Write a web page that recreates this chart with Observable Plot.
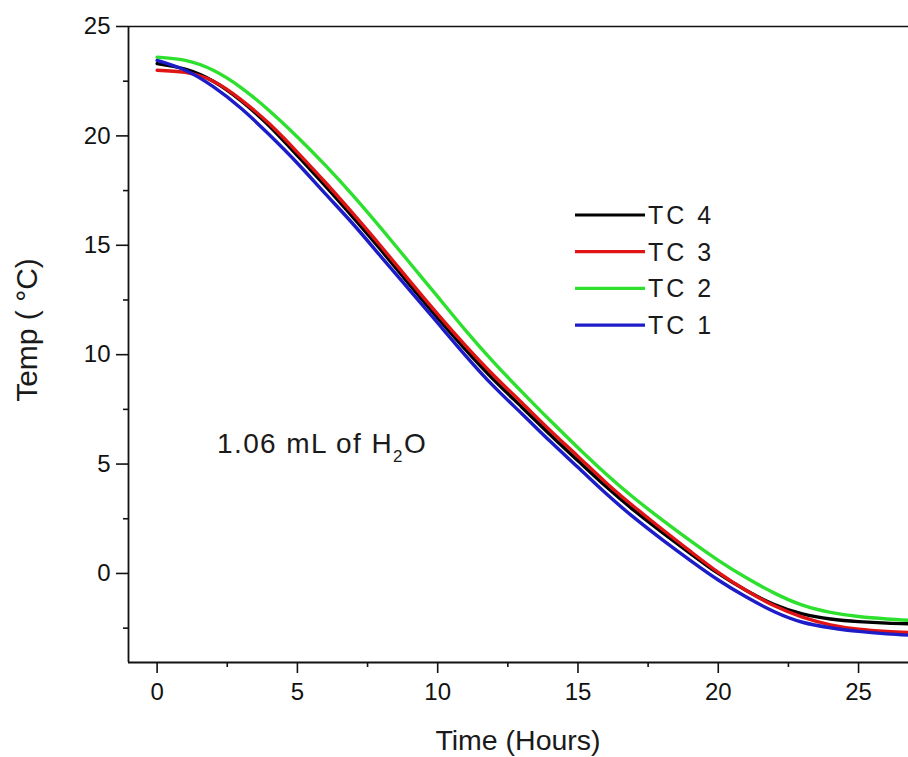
<!DOCTYPE html>
<html>
<head>
<meta charset="utf-8">
<script src="https://cdn.jsdelivr.net/npm/d3@7"></script>
<script src="https://cdn.jsdelivr.net/npm/@observablehq/plot@0.6"></script>
<style>
  html, body { margin: 0; padding: 0; background: #fff; }
  svg { display: block; }
</style>
</head>
<body>
<div id="chart"></div>
<script>
// ---- Data ----
const hours = [0, 1, 2, 3, 4, 5, 6, 7, 8, 9, 10, 11, 12, 13, 14, 15, 16, 17, 18, 19, 20, 21, 22, 23, 24, 25, 26, 26.8];

const tc4 = [23.3, 23.05, 22.5, 21.6, 20.45, 19.1, 17.7, 16.25, 14.75, 13.2, 11.68, 10.22, 8.85, 7.6, 6.35, 5.15, 3.97, 2.88, 1.88, 0.92, 0.0, -0.78, -1.42, -1.85, -2.08, -2.2, -2.27, -2.3];
const tc3 = [23.0, 22.9, 22.5, 21.65, 20.55, 19.25, 17.87, 16.42, 14.92, 13.37, 11.85, 10.4, 9.05, 7.8, 6.55, 5.35, 4.15, 3.05, 2.02, 1.02, 0.05, -0.78, -1.48, -2.0, -2.35, -2.55, -2.65, -2.7];
const tc2 = [23.6, 23.45, 23.0, 22.2, 21.15, 19.95, 18.65, 17.25, 15.75, 14.2, 12.65, 11.1, 9.65, 8.3, 7.0, 5.75, 4.55, 3.45, 2.45, 1.5, 0.6, -0.2, -0.9, -1.45, -1.78, -1.97, -2.08, -2.14];
const tc1 = [23.45, 23.0, 22.25, 21.25, 20.05, 18.75, 17.35, 15.95, 14.45, 12.95, 11.45, 9.95, 8.55, 7.3, 6.05, 4.85, 3.65, 2.55, 1.55, 0.6, -0.3, -1.08, -1.75, -2.23, -2.48, -2.65, -2.76, -2.82];

const seriesNames = ["TC 4", "TC 3", "TC 2", "TC 1"];
const seriesValues = [tc4, tc3, tc2, tc1];
const seriesColors = ["#000000", "#e01414", "#2ee02e", "#1c1cc8"];

const xMajorTicks = [0, 5, 10, 15, 20, 25];
const xMinorTicks = [2.5, 7.5, 12.5, 17.5, 22.5];
const yMajorTicks = [0, 5, 10, 15, 20, 25];
const yMinorTicks = [-2.5, 2.5, 7.5, 12.5, 17.5, 22.5];

const xDomain = [-1.02, 26.78];
const yDomain = [-4.07, 25];

const xTitle = "Time (Hours)";
const yTitle = "Temp ( °C)";
const noteMain = "1.06 mL of H";
const noteSub = "2";
const noteEnd = "O";

// ---- Build long table ----
const rows = [];
seriesNames.forEach((name, i) => {
  hours.forEach((t, j) => rows.push({series: name, t, T: seriesValues[i][j]}));
});

const font = "'Liberation Sans', Arial, sans-serif";

const chart = Plot.plot({
  width: 908,
  height: 757,
  marginLeft: 128,
  marginRight: 0,
  marginTop: 26,
  marginBottom: 95,
  style: {fontFamily: font, fontSize: "24px", color: "#000", background: "#fff", overflow: "visible"},
  x: {domain: xDomain},
  y: {domain: yDomain},
  color: {domain: seriesNames, range: seriesColors},
  marks: [
    Plot.ruleX([xDomain[0]], {stroke: "#111", strokeWidth: 1.8}),
    Plot.ruleY([yDomain[1]], {stroke: "#111", strokeWidth: 1.6}),
    Plot.ruleY([yDomain[0]], {stroke: "#111", strokeWidth: 1.8}),
    Plot.axisX({ticks: xMajorTicks, tickSize: 11, tickPadding: 9, fontSize: 23, label: null, stroke: "#111", strokeWidth: 1.6, fill: "#111"}),
    Plot.axisX({ticks: xMinorTicks, tickSize: 5, tickFormat: () => "", label: null, stroke: "#111", strokeWidth: 1.6}),
    Plot.axisY({ticks: yMajorTicks, tickSize: 12, tickPadding: 6, fontSize: 24, label: null, stroke: "#111", strokeWidth: 1.6, fill: "#111"}),
    Plot.axisY({ticks: yMinorTicks, tickSize: 5, tickFormat: () => "", label: null, stroke: "#111", strokeWidth: 1.6}),
    Plot.line(rows, {x: "t", y: "T", z: "series", stroke: "series", strokeWidth: 3.4, curve: "natural", clip: true})
  ]
});

const svg = d3.select(chart);

// Force tick label size (only Plot's tick labels exist as text at this point)
svg.selectAll("text").style("font-size", "24px").style("font-family", font);

// Axis titles
svg.append("text")
  .attr("x", 518).attr("y", 750)
  .attr("text-anchor", "middle")
  .attr("font-family", font).attr("font-size", 28.5)
  .attr("fill", "#1a1a1a")
  .text(xTitle);

svg.append("text")
  .attr("transform", "translate(37,330) rotate(-90)")
  .attr("text-anchor", "middle")
  .attr("font-family", font).attr("font-size", 30)
  .attr("fill", "#1a1a1a")
  .text(yTitle);

// Legend
const lg = svg.append("g").attr("font-family", font).attr("font-size", 25).attr("text-anchor", "start");
seriesNames.forEach((name, i) => {
  const cy = 215 + i * 36.7;
  lg.append("line")
    .attr("x1", 575).attr("x2", 645).attr("y1", cy).attr("y2", cy)
    .attr("stroke", seriesColors[i]).attr("stroke-width", 3.2);
  lg.append("text")
    .attr("x", 648).attr("y", cy + 9)
    .attr("fill", "#1a1a1a")
    .attr("letter-spacing", 3)
    .text(name);
});

// Annotation
const note = svg.append("text")
  .attr("x", 217).attr("y", 453)
  .attr("text-anchor", "start")
  .attr("font-family", font).attr("font-size", 28)
  .attr("letter-spacing", 1.4)
  .attr("fill", "#1a1a1a");
note.append("tspan").text(noteMain);
note.append("tspan").attr("font-size", 17).attr("dy", 9).text(noteSub);
note.append("tspan").attr("dy", -9).text(noteEnd);

document.getElementById("chart").append(chart);
</script>
</body>
</html>
